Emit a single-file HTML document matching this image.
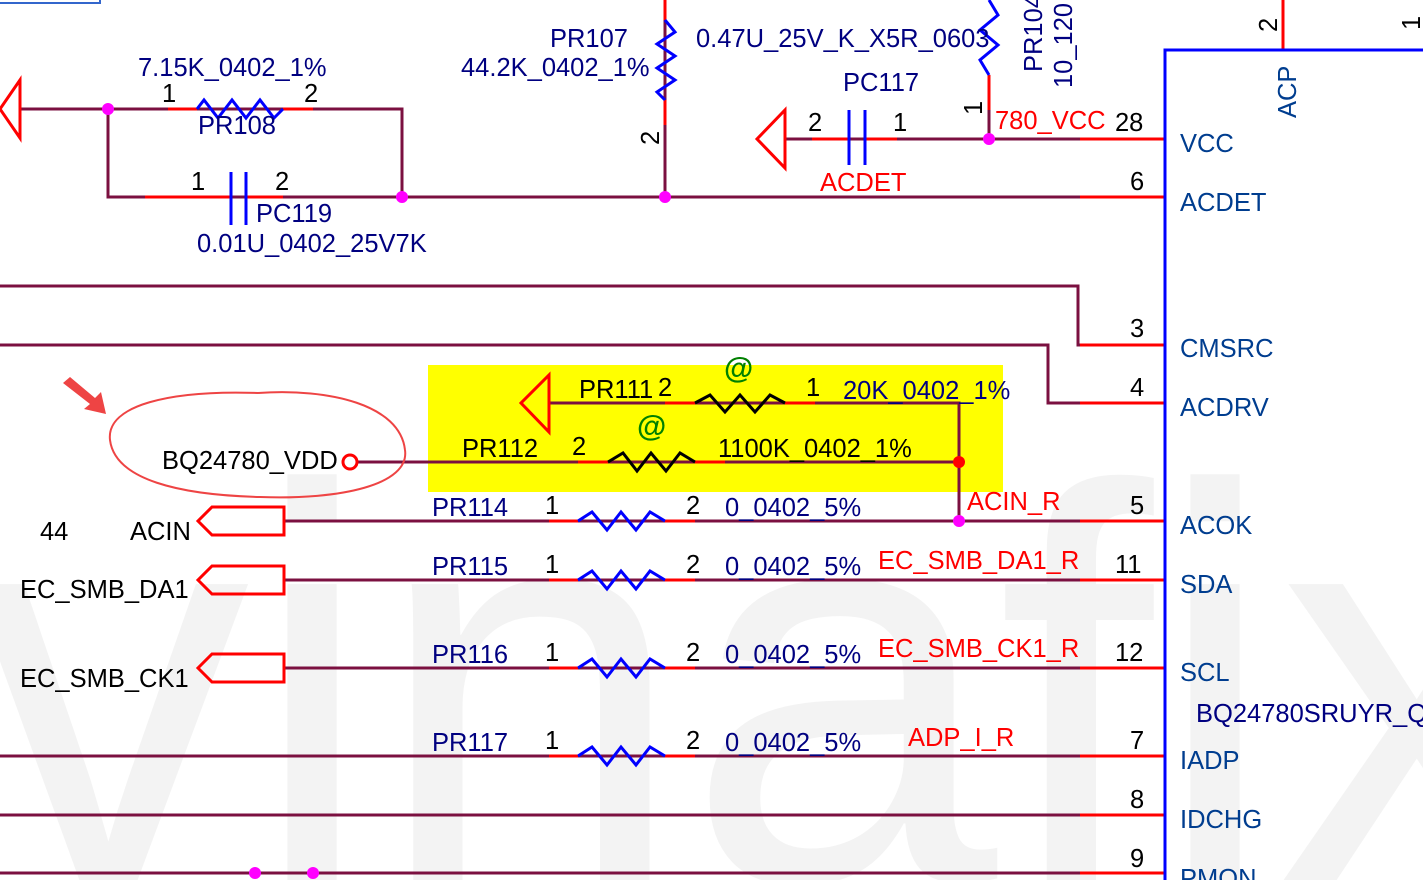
<!DOCTYPE html>
<html><head><meta charset="utf-8"><style>
html,body{margin:0;padding:0;background:#fff;width:1423px;height:880px;overflow:hidden}
svg{display:block;font-family:"Liberation Sans",sans-serif}
</style></head><body>
<svg width="1423" height="880" viewBox="0 0 1423 880" xmlns="http://www.w3.org/2000/svg">
<rect width="1423" height="880" fill="#fff"/>
<g fill="#f3f3f3" font-size="560" font-family="Liberation Sans,sans-serif">
<text x="-30" y="880">vinafix</text>
</g>
<rect x="428" y="365" width="575" height="127" fill="#ffff00"/>
<line x1="0" y1="3" x2="100" y2="3" stroke="#3366cc" stroke-width="2"/>
<line x1="100" y1="0" x2="100" y2="4" stroke="#3366cc" stroke-width="2"/>
<g stroke="#7b1040" stroke-width="3" fill="none">
<polyline points="20,109 402,109 402,197"/>
<polyline points="108,109 108,197 1165,197"/>
<line x1="665" y1="0" x2="665" y2="197"/>
<polyline points="785,139 1165,139"/>
<line x1="989" y1="110" x2="989" y2="139"/>
<polyline points="0,286 1078,286 1078,345 1165,345"/>
<polyline points="0,345 1048,345 1048,403 1165,403"/>
<polyline points="549,403 959,403 959,521"/>
<line x1="357" y1="462" x2="959" y2="462"/>
<line x1="284" y1="521" x2="1165" y2="521"/>
<line x1="284" y1="580" x2="1165" y2="580"/>
<line x1="284" y1="668" x2="1165" y2="668"/>
<line x1="0" y1="756" x2="1165" y2="756"/>
<line x1="0" y1="815" x2="1165" y2="815"/>
<line x1="0" y1="873" x2="1165" y2="873"/>
</g>
<g stroke="#ff0000" stroke-width="3" fill="none">
<line x1="168" y1="109" x2="197" y2="109"/><line x1="283" y1="109" x2="313" y2="109"/>
<line x1="145" y1="197" x2="230" y2="197"/><line x1="246" y1="197" x2="283" y2="197"/>
<line x1="665" y1="0" x2="665" y2="20"/><line x1="665" y1="100" x2="665" y2="125"/>
<line x1="989" y1="75" x2="989" y2="110"/>
<line x1="812" y1="139" x2="849" y2="139"/><line x1="865" y1="139" x2="897" y2="139"/>
<line x1="1283" y1="0" x2="1283" y2="50"/>
<line x1="1080" y1="139" x2="1165" y2="139"/><line x1="1080" y1="197" x2="1165" y2="197"/>
<line x1="1080" y1="345" x2="1165" y2="345"/><line x1="1080" y1="403" x2="1165" y2="403"/>
<line x1="1080" y1="521" x2="1165" y2="521"/><line x1="1080" y1="580" x2="1165" y2="580"/>
<line x1="1080" y1="668" x2="1165" y2="668"/><line x1="1080" y1="756" x2="1165" y2="756"/>
<line x1="1080" y1="815" x2="1165" y2="815"/><line x1="1080" y1="873" x2="1165" y2="873"/>
<line x1="665" y1="403" x2="695" y2="403"/><line x1="785" y1="403" x2="815" y2="403"/>
<line x1="578" y1="462" x2="608" y2="462"/><line x1="695" y1="462" x2="725" y2="462"/>
<line x1="549" y1="521" x2="578" y2="521"/><line x1="665" y1="521" x2="695" y2="521"/>
<line x1="549" y1="580" x2="578" y2="580"/><line x1="665" y1="580" x2="695" y2="580"/>
<line x1="549" y1="668" x2="578" y2="668"/><line x1="665" y1="668" x2="695" y2="668"/>
<line x1="549" y1="756" x2="578" y2="756"/><line x1="665" y1="756" x2="695" y2="756"/>
<polygon points="20,80 20,138 0,109"/>
<polygon points="785,110 785,168 757,139"/>
<polygon points="549,375 549,432 521,403"/>
<polygon points="284,507 212,507 198,521 212,535 284,535"/>
<polygon points="284,566 212,566 198,580 212,594 284,594"/>
<polygon points="284,654 212,654 198,668 212,682 284,682"/>
<circle cx="350" cy="462" r="7"/>
<path d="M258,393 C330,388 400,405 405,450 C410,485 340,500 260,497 C180,495 115,480 110,440 C106,405 170,390 258,393" stroke="#ee4444" stroke-width="2"/>
</g>
<polygon points="63,383 70,377 95,398 101,392 106,414 84,409 90,404" fill="#ee4444"/>
<g stroke="#0000ff" stroke-width="3" fill="none">
<polyline points="197,109 204,100 218,118 232,100 246,118 260,100 274,118 283,109"/>
<polyline points="665,20 675,32 657,44 675,56 657,68 675,80 657,92 665,100"/>
<polyline points="989,0 998,15 980,30 998,45 980,60 989,75"/>
<line x1="231" y1="172" x2="231" y2="225"/><line x1="246" y1="172" x2="246" y2="225"/>
<line x1="849" y1="110" x2="849" y2="165"/><line x1="865" y1="110" x2="865" y2="165"/>
<polyline points="578,521 592,512 607,530 621,512 636,530 650,512 665,521"/>
<polyline points="578,580 592,571 607,589 621,571 636,589 650,571 665,580"/>
<polyline points="578,668 592,659 607,677 621,659 636,677 650,659 665,668"/>
<polyline points="578,756 592,747 607,765 621,747 636,765 650,747 665,756"/>
<polyline points="1165,880 1165,50 1423,50"/>
</g>
<g stroke="#000" stroke-width="3" fill="none">
<polyline points="695,403 710,395 725,412 740,395 755,412 770,395 785,403"/>
<polyline points="608,462 623,453 637,471 651,453 666,471 680,453 695,462"/>
</g>
<g fill="#ff00ff">
<circle cx="108" cy="109" r="6"/><circle cx="402" cy="197" r="6"/><circle cx="665" cy="197" r="6"/>
<circle cx="989" cy="139" r="6"/><circle cx="959" cy="521" r="6"/>
<circle cx="255" cy="873" r="6"/><circle cx="313" cy="873" r="6"/>
</g>
<circle cx="959" cy="462" r="6" fill="#ff0000"/>
<g font-size="25.5" fill="#000080">
<text x="138" y="76">7.15K_0402_1%</text>
<text x="198" y="134">PR108</text>
<text x="256" y="222">PC119</text>
<text x="197" y="252">0.01U_0402_25V7K</text>
<text x="550" y="47">PR107</text>
<text x="461" y="76">44.2K_0402_1%</text>
<text x="696" y="47">0.47U_25V_K_X5R_0603</text>
<text x="843" y="91">PC117</text>
<text transform="translate(1042,72) rotate(-90)">PR104</text>
<text transform="translate(1072,88) rotate(-90)">10_120</text>
<text x="432" y="516">PR114</text>
<text x="432" y="575">PR115</text>
<text x="432" y="663">PR116</text>
<text x="432" y="751">PR117</text>
<text x="725" y="516">0_0402_5%</text>
<text x="725" y="575">0_0402_5%</text>
<text x="725" y="663">0_0402_5%</text>
<text x="725" y="751">0_0402_5%</text>
<text x="843" y="399">20K_0402_1%</text>
</g>
<g font-size="25.5" fill="#003d8f">
<text x="1180" y="152">VCC</text><text x="1180" y="211">ACDET</text>
<text x="1180" y="357">CMSRC</text><text x="1180" y="416">ACDRV</text>
<text x="1180" y="534">ACOK</text><text x="1180" y="593">SDA</text>
<text x="1180" y="681">SCL</text><text x="1180" y="769">IADP</text>
<text x="1180" y="828">IDCHG</text><text x="1180" y="887">PMON</text>
<text x="1196" y="722" fill="#000080">BQ24780SRUYR_Q</text>
<text transform="translate(1296,118) rotate(-90)">ACP</text>
</g>
<g font-size="25.5" fill="#000">
<text x="162" y="102">1</text><text x="304" y="102">2</text>
<text x="191" y="190">1</text><text x="275" y="190">2</text>
<text transform="translate(659,145) rotate(-90)">2</text>
<text x="808" y="131">2</text><text x="893" y="131">1</text>
<text transform="translate(982,115) rotate(-90)">1</text>
<text x="1115" y="131">28</text><text x="1130" y="190">6</text>
<text transform="translate(1277,32) rotate(-90)">2</text>
<text transform="translate(1420,30) rotate(-90)">1</text>
<text x="1130" y="337">3</text><text x="1130" y="396">4</text>
<text x="1130" y="514">5</text><text x="1115" y="573">11</text>
<text x="1115" y="661">12</text><text x="1130" y="749">7</text>
<text x="1130" y="808">8</text><text x="1130" y="867">9</text>
<text x="579" y="398">PR111</text><text x="658" y="396">2</text><text x="806" y="396">1</text>
<text x="462" y="457">PR112</text><text x="572" y="455">2</text><text x="718" y="457">1100K_0402_1%</text>
<text x="162" y="469">BQ24780_VDD</text>
<text x="545" y="514">1</text><text x="686" y="514">2</text>
<text x="545" y="573">1</text><text x="686" y="573">2</text>
<text x="545" y="661">1</text><text x="686" y="661">2</text>
<text x="545" y="749">1</text><text x="686" y="749">2</text>
<text x="40" y="540">44</text><text x="130" y="540">ACIN</text>
<text x="20" y="598">EC_SMB_DA1</text><text x="20" y="687">EC_SMB_CK1</text>
</g>
<g font-size="25.5" fill="#ff0000">
<text x="820" y="191">ACDET</text>
<text x="995" y="129">780_VCC</text>
<text x="967" y="510">ACIN_R</text>
<text x="878" y="569">EC_SMB_DA1_R</text>
<text x="878" y="657">EC_SMB_CK1_R</text>
<text x="908" y="746">ADP_I_R</text>
</g>
<g font-size="30" fill="#008000" font-weight="bold">
<text x="724" y="378">@</text><text x="637" y="436">@</text>
</g>
</svg>
</body></html>
